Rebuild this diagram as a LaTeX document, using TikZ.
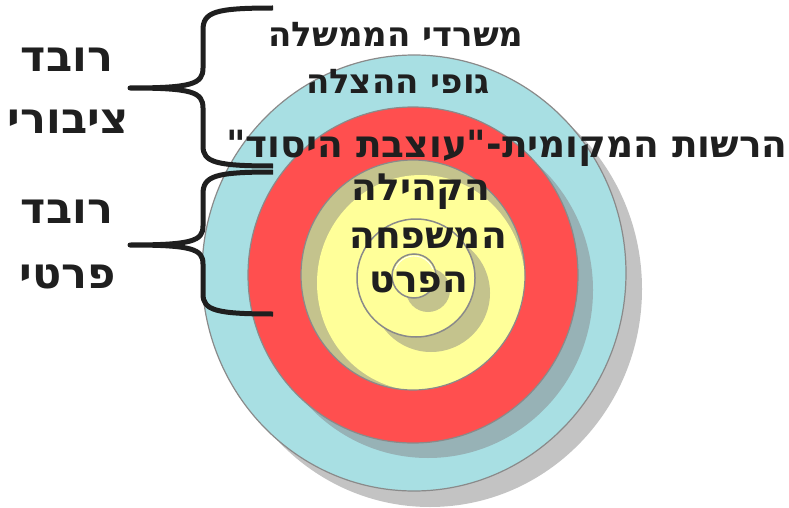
\documentclass[tikz,border=0pt]{standalone}
\usepackage{fontspec}
\usepackage{tikz}
\usetikzlibrary{positioning}
\TeXXeTstate=1
\newfontfamily\hebfont[Script=Hebrew]{DejaVu Sans}
\definecolor{ink}{HTML}{1F1F1F}
\definecolor{ringline}{HTML}{8A8A8A}
\definecolor{skyring}{HTML}{A8DFE3}
\definecolor{redring}{HTML}{FF4F4F}
\definecolor{sunring}{HTML}{FFFF99}
\definecolor{khaki}{HTML}{C4C38D}
\definecolor{dropgray}{HTML}{C3C3C3}
\definecolor{dropblue}{HTML}{97B2B6}

\begin{document}
\begin{tikzpicture}[x=1pt,y=-1pt,
  ringtext/.style={anchor=base,inner sep=0pt,text=ink,font=\hebfont\bfseries\fontsize{34}{40}\selectfont},
  bigtext/.style={ringtext,font=\hebfont\bfseries\fontsize{37.5}{44}\selectfont},
  sidetext/.style={ringtext,font=\hebfont\bfseries\fontsize{43}{50}\selectfont},
  bracestroke/.style={draw=ink,line width=5pt,line join=round}]
\useasboundingbox (0,0) rectangle (789,508);
% rings with their drop shadows
\fill[dropgray] (430,289) ellipse (212 and 218);
\draw[ringline,line width=1.2pt,fill=skyring] (414,273) ellipse (212 and 218);
\fill[dropblue] (428,290) ellipse (165 and 168);
\draw[ringline,line width=1.2pt,fill=redring] (413,275) ellipse (165 and 168);
\fill[khaki] (413,275) ellipse (112 and 115);
\begin{scope}
\clip (413,275) ellipse (112 and 115);
\fill[sunring] (421,283) ellipse (104 and 108);
\end{scope}
\draw[ringline,line width=1.2pt] (413,275) ellipse (112 and 115);
\fill[khaki] (431,293) circle (59);
\draw[ringline,line width=1.5pt,fill=sunring] (416,278) circle (59);
\fill[khaki] (428,290) circle (22);
\draw[ringline,line width=1.5pt,fill=sunring] (414,276) circle (22);
\draw[white,line width=0.8pt] (414,276) ++(200:20) arc (200:340:20);
% braces
\coordinate (pubtip) at (130,88);
\coordinate (privtip) at (130,245);
\draw[bracestroke] (273,8) .. controls (215,8) and (203,12) .. (203,30) -- (203,68)
  .. controls (203,84) and (192,88) .. (pubtip)
  .. controls (192,88) and (203,92) .. (203,108) -- (203,146)
  .. controls (203,162) and (215,166) .. (273,166);
\draw[bracestroke] (273,172) .. controls (215,172) and (203,176) .. (203,194) -- (203,226)
  .. controls (203,241) and (192,245) .. (privtip)
  .. controls (192,245) and (203,249) .. (203,264) -- (203,294)
  .. controls (203,310) and (215,314) .. (273,314);
% labels
\node[ringtext] (gov) at (396,47) {\beginR משרדי הממשלה\endR};
\node[ringtext] (rescue) at (398,94) {\beginR גופי ההצלה\endR};
\node[bigtext] (local) at (507,157) {\beginR הרשות המקומית-"עוצבת היסוד"\endR};
\node[bigtext] (community) at (421,200) {\beginR הקהילה\endR};
\node[bigtext] (family) at (428,248) {\beginR המשפחה\endR};
\node[bigtext] (person) at (419,292) {\beginR הפרט\endR};
\node[sidetext] (pubtop) at (67,72) {\beginR רובד\endR};
\node[sidetext] (pubbot) at (68,133) {\beginR ציבורי\endR};
\node[sidetext] (privtop) at (67,223) {\beginR רובד\endR};
\node[sidetext] (privbot) at (68,288) {\beginR פרטי\endR};
\end{tikzpicture}
\end{document}
